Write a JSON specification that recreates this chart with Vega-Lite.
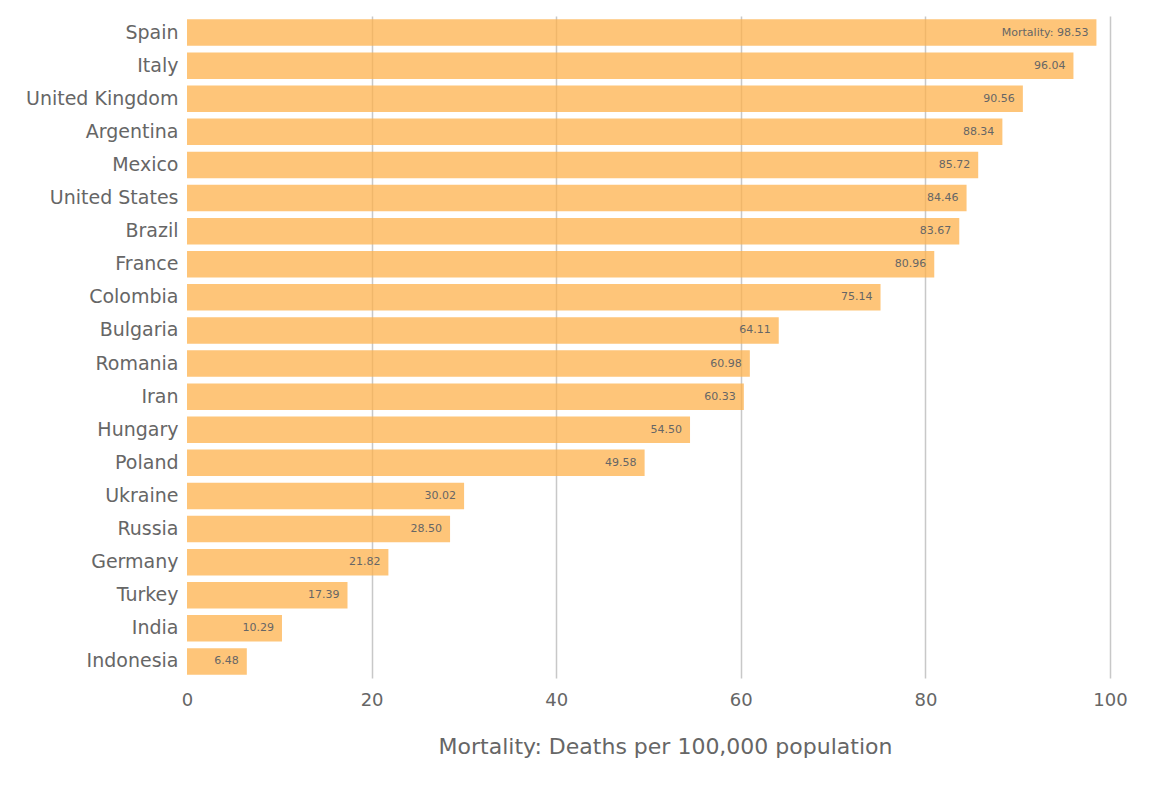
{
  "$schema": "https://vega.github.io/schema/vega-lite/v6.json",
  "width": 923,
  "height": 662,
  "autosize": "none",
  "padding": {"left": 187, "top": 16, "right": 56, "bottom": 112},
  "background": "white",
  "config": {
    "view": {"stroke": null},
    "font": "DejaVu Sans"
  },
  "data": {
    "values": [
      {"country": "Spain", "mortality": 98.53, "label": "Mortality: 98.53"},
      {"country": "Italy", "mortality": 96.04, "label": "96.04"},
      {"country": "United Kingdom", "mortality": 90.56, "label": "90.56"},
      {"country": "Argentina", "mortality": 88.34, "label": "88.34"},
      {"country": "Mexico", "mortality": 85.72, "label": "85.72"},
      {"country": "United States", "mortality": 84.46, "label": "84.46"},
      {"country": "Brazil", "mortality": 83.67, "label": "83.67"},
      {"country": "France", "mortality": 80.96, "label": "80.96"},
      {"country": "Colombia", "mortality": 75.14, "label": "75.14"},
      {"country": "Bulgaria", "mortality": 64.11, "label": "64.11"},
      {"country": "Romania", "mortality": 60.98, "label": "60.98"},
      {"country": "Iran", "mortality": 60.33, "label": "60.33"},
      {"country": "Hungary", "mortality": 54.50, "label": "54.50"},
      {"country": "Poland", "mortality": 49.58, "label": "49.58"},
      {"country": "Ukraine", "mortality": 30.02, "label": "30.02"},
      {"country": "Russia", "mortality": 28.50, "label": "28.50"},
      {"country": "Germany", "mortality": 21.82, "label": "21.82"},
      {"country": "Turkey", "mortality": 17.39, "label": "17.39"},
      {"country": "India", "mortality": 10.29, "label": "10.29"},
      {"country": "Indonesia", "mortality": 6.48, "label": "6.48"}
    ]
  },
  "encoding": {
    "y": {
      "field": "country",
      "type": "nominal",
      "sort": {"field": "mortality", "order": "descending"},
      "scale": {"paddingInner": 0.2, "paddingOuter": 0.1},
      "axis": {
        "title": null,
        "domain": false,
        "ticks": false,
        "grid": false,
        "labelFontSize": 19,
        "labelColor": "#666666",
        "labelPadding": 9
      }
    },
    "x": {
      "field": "mortality",
      "type": "quantitative",
      "scale": {"domain": [0, 100], "nice": false},
      "axis": {
        "title": "Mortality: Deaths per 100,000 population",
        "titleFontSize": 22,
        "titleFontWeight": "normal",
        "titleColor": "#666666",
        "titlePadding": 27,
        "titleX": 478,
        "values": [0, 20, 40, 60, 80, 100],
        "domain": false,
        "ticks": false,
        "labelFontSize": 18,
        "labelColor": "#666666",
        "labelPadding": 13,
        "labelFlush": false,
        "grid": true,
        "gridColor": {"condition": {"test": "datum.value === 0", "value": "transparent"}, "value": "#c8c8c8"},
        "gridWidth": 1.5
      }
    }
  },
  "layer": [
    {
      "mark": {"type": "bar", "color": "#feb24c", "opacity": 0.75}
    },
    {
      "mark": {"type": "text", "align": "right", "baseline": "middle", "dx": -8, "fontSize": 11, "color": "#666666"},
      "encoding": {
        "text": {"field": "label", "type": "nominal"}
      }
    }
  ]
}
